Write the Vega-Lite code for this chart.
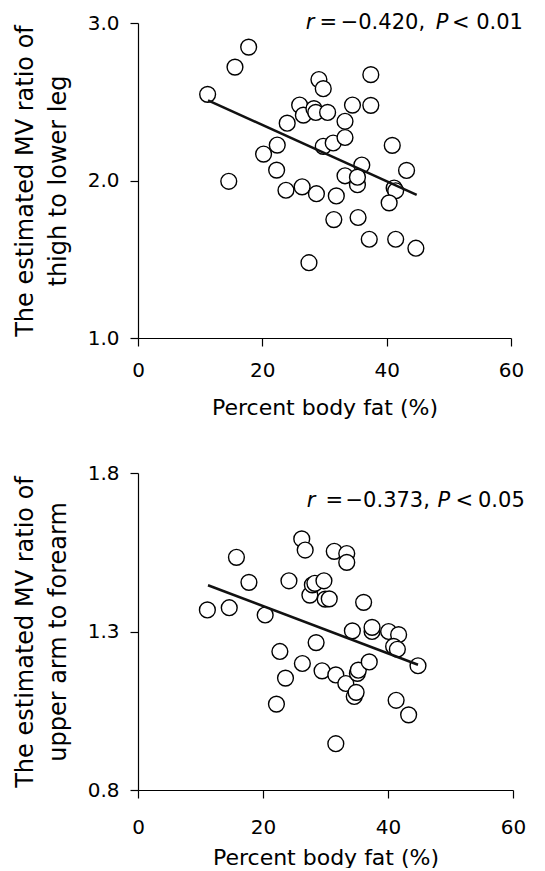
{
  "$schema": "https://vega.github.io/schema/vega-lite/v6.json",
  "background": "white",
  "padding": {"left": 13, "top": 12, "right": 0, "bottom": 0},
  "spacing": 45,
  "config": {
    "view": {"stroke": null},
    "axis": {
      "grid": false,
      "domainColor": "#000",
      "tickColor": "#000",
      "labelColor": "#000",
      "titleColor": "#000",
      "labelFont": "DejaVu Sans",
      "labelFontSize": 20,
      "titleFont": "DejaVu Sans",
      "titleFontWeight": "normal",
      "tickSize": 8,
      "domainWidth": 1.2,
      "tickWidth": 1.2,
      "labelFlush": false
    }
  },
  "datasets": {
    "thigh": [
      {"fat": 11.2, "ratio": 2.547}, {"fat": 15.6, "ratio": 2.720}, {"fat": 17.8, "ratio": 2.847},
      {"fat": 14.6, "ratio": 1.995}, {"fat": 20.2, "ratio": 2.168}, {"fat": 22.4, "ratio": 2.225},
      {"fat": 22.3, "ratio": 2.066}, {"fat": 24.0, "ratio": 2.364}, {"fat": 23.8, "ratio": 1.938},
      {"fat": 26.0, "ratio": 2.479}, {"fat": 26.6, "ratio": 2.415}, {"fat": 26.4, "ratio": 1.960},
      {"fat": 27.5, "ratio": 1.478}, {"fat": 28.3, "ratio": 2.456}, {"fat": 28.6, "ratio": 2.432},
      {"fat": 29.1, "ratio": 2.641}, {"fat": 29.8, "ratio": 2.583}, {"fat": 30.5, "ratio": 2.432},
      {"fat": 28.7, "ratio": 1.916}, {"fat": 29.8, "ratio": 2.217}, {"fat": 31.4, "ratio": 2.238},
      {"fat": 31.9, "ratio": 1.902}, {"fat": 31.5, "ratio": 1.752}, {"fat": 33.3, "ratio": 2.376},
      {"fat": 33.3, "ratio": 2.273}, {"fat": 33.3, "ratio": 2.030}, {"fat": 34.5, "ratio": 2.479},
      {"fat": 36.0, "ratio": 2.098}, {"fat": 35.3, "ratio": 1.973}, {"fat": 35.3, "ratio": 2.021},
      {"fat": 35.4, "ratio": 1.765}, {"fat": 37.45, "ratio": 2.672}, {"fat": 37.45, "ratio": 2.477},
      {"fat": 37.2, "ratio": 1.627}, {"fat": 40.9, "ratio": 2.223}, {"fat": 41.2, "ratio": 1.952},
      {"fat": 41.45, "ratio": 1.935}, {"fat": 40.4, "ratio": 1.858}, {"fat": 41.45, "ratio": 1.627},
      {"fat": 43.2, "ratio": 2.064}, {"fat": 44.7, "ratio": 1.570}
    ],
    "thighFit": [
      {"fat": 11.26, "ratio": 2.509}, {"fat": 44.83, "ratio": 1.909}
    ],
    "thighNoteItalic": [
      {"fat": 27.0, "ratio": 3.0, "t": "r"}, {"fat": 47.9, "ratio": 3.0, "t": "P"}
    ],
    "thighNote": [
      {"fat": 29.2, "ratio": 3.0, "t": "="}, {"fat": 32.6, "ratio": 3.0, "t": "−0.420,"},
      {"fat": 50.5, "ratio": 3.0, "t": "<"}, {"fat": 54.4, "ratio": 3.0, "t": "0.01"}
    ],
    "arm": [
      {"fat": 11.1, "ratio": 1.368}, {"fat": 14.6, "ratio": 1.375}, {"fat": 15.75, "ratio": 1.534},
      {"fat": 17.75, "ratio": 1.455}, {"fat": 20.35, "ratio": 1.352}, {"fat": 22.15, "ratio": 1.071},
      {"fat": 22.7, "ratio": 1.237}, {"fat": 23.6, "ratio": 1.153}, {"fat": 24.15, "ratio": 1.460},
      {"fat": 26.2, "ratio": 1.592}, {"fat": 26.75, "ratio": 1.557}, {"fat": 26.3, "ratio": 1.199},
      {"fat": 27.5, "ratio": 1.415}, {"fat": 27.9, "ratio": 1.447}, {"fat": 28.3, "ratio": 1.452},
      {"fat": 29.75, "ratio": 1.460}, {"fat": 28.5, "ratio": 1.265}, {"fat": 29.45, "ratio": 1.176},
      {"fat": 29.95, "ratio": 1.402}, {"fat": 30.6, "ratio": 1.403}, {"fat": 31.4, "ratio": 1.553},
      {"fat": 31.65, "ratio": 1.163}, {"fat": 31.65, "ratio": 0.946}, {"fat": 33.4, "ratio": 1.546},
      {"fat": 33.4, "ratio": 1.518}, {"fat": 33.25, "ratio": 1.136}, {"fat": 34.3, "ratio": 1.302},
      {"fat": 34.6, "ratio": 1.095}, {"fat": 34.9, "ratio": 1.108}, {"fat": 35.1, "ratio": 1.168},
      {"fat": 35.25, "ratio": 1.178}, {"fat": 36.1, "ratio": 1.392}, {"fat": 37.0, "ratio": 1.204},
      {"fat": 37.45, "ratio": 1.300}, {"fat": 37.45, "ratio": 1.313}, {"fat": 40.1, "ratio": 1.300},
      {"fat": 41.7, "ratio": 1.290}, {"fat": 40.9, "ratio": 1.253}, {"fat": 41.5, "ratio": 1.244},
      {"fat": 41.3, "ratio": 1.083}, {"fat": 43.3, "ratio": 1.037}, {"fat": 44.8, "ratio": 1.192}
    ],
    "armFit": [
      {"fat": 11.2, "ratio": 1.446}, {"fat": 44.8, "ratio": 1.195}
    ],
    "armNoteItalic": [
      {"fat": 27.0, "ratio": 1.712, "t": "r"}, {"fat": 47.9, "ratio": 1.712, "t": "P"}
    ],
    "armNote": [
      {"fat": 30.0, "ratio": 1.712, "t": "="}, {"fat": 33.2, "ratio": 1.712, "t": "−0.373,"},
      {"fat": 50.8, "ratio": 1.712, "t": "<"}, {"fat": 54.4, "ratio": 1.712, "t": "0.05"}
    ]
  },
  "vconcat": [
    {
      "width": 373,
      "height": 315,
      "encoding": {
        "x": {
          "field": "fat", "type": "quantitative",
          "scale": {"domain": [0, 60], "nice": false},
          "axis": {"values": [0, 20, 40, 60], "title": "Percent body fat (%)", "labelPadding": 14, "titlePadding": 17, "titleFontSize": 22}
        },
        "y": {
          "field": "ratio", "type": "quantitative",
          "scale": {"domain": [1, 3], "nice": false, "zero": false},
          "axis": {"values": [1, 2, 3], "format": ".1f", "title": ["The estimated MV ratio of", "thigh to lower leg"], "labelPadding": 11, "titlePadding": 17, "titleFontSize": 24, "titleLineHeight": 33}
        }
      },
      "layer": [
        {"data": {"name": "thigh"}, "mark": {"type": "circle", "size": 250, "fill": "white", "stroke": "black", "strokeWidth": 1.4, "opacity": 1}},
        {"data": {"name": "thighFit"}, "mark": {"type": "line", "color": "#111", "strokeWidth": 2.5}},
        {"data": {"name": "thighNoteItalic"}, "mark": {"type": "text", "align": "left", "baseline": "middle", "font": "DejaVu Sans", "fontSize": 21, "fontStyle": "italic", "color": "black"}, "encoding": {"text": {"field": "t"}}},
        {"data": {"name": "thighNote"}, "mark": {"type": "text", "align": "left", "baseline": "middle", "font": "DejaVu Sans", "fontSize": 21, "color": "black"}, "encoding": {"text": {"field": "t"}}}
      ]
    },
    {
      "width": 375,
      "height": 317,
      "encoding": {
        "x": {
          "field": "fat", "type": "quantitative",
          "scale": {"domain": [0, 60], "nice": false},
          "axis": {"values": [0, 20, 40, 60], "title": "Percent body fat (%)", "labelPadding": 19, "titlePadding": 10, "titleFontSize": 22}
        },
        "y": {
          "field": "ratio", "type": "quantitative",
          "scale": {"domain": [0.8, 1.8], "nice": false, "zero": false},
          "axis": {"values": [0.8, 1.3, 1.8], "format": ".1f", "title": ["The estimated MV ratio of", "upper arm to forearm"], "labelPadding": 11, "titlePadding": 17, "titleFontSize": 24, "titleLineHeight": 33}
        }
      },
      "layer": [
        {"data": {"name": "arm"}, "mark": {"type": "circle", "size": 250, "fill": "white", "stroke": "black", "strokeWidth": 1.4, "opacity": 1}},
        {"data": {"name": "armFit"}, "mark": {"type": "line", "color": "#111", "strokeWidth": 2.5}},
        {"data": {"name": "armNoteItalic"}, "mark": {"type": "text", "align": "left", "baseline": "middle", "font": "DejaVu Sans", "fontSize": 21, "fontStyle": "italic", "color": "black"}, "encoding": {"text": {"field": "t"}}},
        {"data": {"name": "armNote"}, "mark": {"type": "text", "align": "left", "baseline": "middle", "font": "DejaVu Sans", "fontSize": 21, "color": "black"}, "encoding": {"text": {"field": "t"}}}
      ]
    }
  ]
}
